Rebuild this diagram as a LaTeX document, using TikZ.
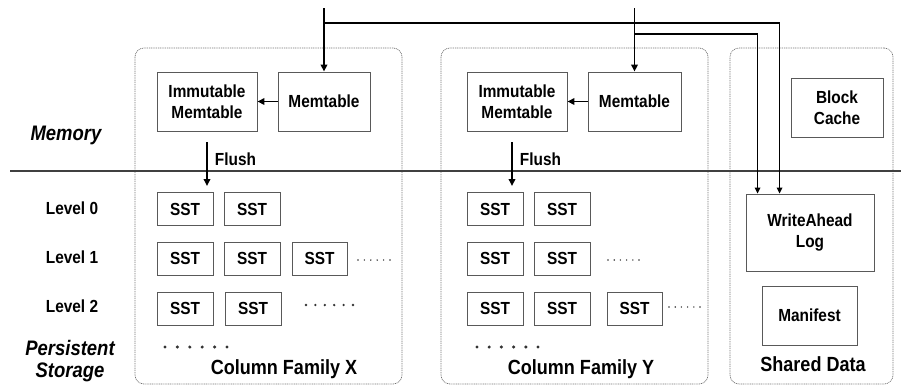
\documentclass[tikz,border=0pt]{standalone}
\usepackage{fontspec}
\setmainfont{Liberation Sans}[FakeStretch=0.88]
\usetikzlibrary{arrows.meta}

% label fonts
\newcommand{\lblfont}{\fontsize{17.5}{21.5}\selectfont\bfseries}
\newcommand{\capfont}{\fontsize{20.5}{24}\selectfont\bfseries}
\newcommand{\tierfont}{\fontsize{21}{21}\selectfont\bfseries\itshape}

\begin{document}
\begin{tikzpicture}[x=1pt,y=-1pt,
  region/.style={draw=black!55, line width=0.7pt, dash pattern=on 1pt off 0.8pt,
    rounded corners=9pt, inner sep=0pt},
  membox/.style={draw=black!65, line width=0.9pt, inner sep=0pt, align=center,
    font=\lblfont},
  sst/.style={membox, minimum width=56pt, minimum height=33pt},
  flow/.style={line width=1.8pt, -{Triangle[length=7pt,width=6.5pt]}},
  thin flow/.style={line width=1.5pt, -{Triangle[length=6pt,width=5.5pt]}},
  lbl/.style={font=\lblfont, inner sep=0pt},
  dot/.style={fill=black!80},
]
\useasboundingbox (0,0) rectangle (901,389);

% regions
\node[region, minimum width=267pt, minimum height=336pt] (cfx) at (268.5,216) {};
\node[region, minimum width=267pt, minimum height=336pt] (cfy) at (574.5,216) {};
\node[region, minimum width=163pt, minimum height=336pt] (shared) at (811.5,216) {};

% memory / storage boundary
\coordinate (sepL) at (10,171);
\coordinate (sepR) at (901,171);
\draw[black!75, line width=1.4pt] (sepL) -- (sepR);

% memtables
\node[membox, minimum width=100pt, minimum height=59pt] (imx) at (207,101.5) {Immutable\\Memtable};
\node[membox, minimum width=92pt, minimum height=59pt] (mtx) at (324,101.5) {Memtable};
\node[membox, minimum width=100pt, minimum height=59pt] (imy) at (517,101.5) {Immutable\\Memtable};
\node[membox, minimum width=93pt, minimum height=59pt] (mty) at (634.5,101.5) {Memtable};

% shared data
\node[membox, minimum width=92pt, minimum height=59pt] (cache) at (837,107.5) {Block\\Cache};
\node[membox, minimum width=128pt, minimum height=77pt] (wal) at (810,232.5) {WriteAhead\\Log};
\node[membox, minimum width=95pt, minimum height=59pt] (manifest) at (809.5,315.5) {Manifest};

% SST files, column family X
\node[sst] (x00) at (185,209) {SST};
\node[sst] (x01) at (252,209) {SST};
\node[sst] (x10) at (185,258.5) {SST};
\node[sst] (x11) at (252,258.5) {SST};
\node[sst, minimum width=55pt] (x12) at (319.5,258.5) {SST};
\node[sst] (x20) at (185,308.5) {SST};
\node[sst] (x21) at (253,308.5) {SST};

% SST files, column family Y
\node[sst] (y00) at (495,209) {SST};
\node[sst] (y01) at (562,209) {SST};
\node[sst] (y10) at (495,258.5) {SST};
\node[sst] (y11) at (562,258.5) {SST};
\node[sst] (y20) at (495,308.5) {SST};
\node[sst] (y21) at (562,308.5) {SST};
\node[sst, minimum width=55pt] (y22) at (634.5,308.5) {SST};

% continuation dots
\foreach \i in {0,...,5} {
  \fill[dot] (358+6.4*\i,260) circle (0.8pt);
  \fill[dot] (306+9.4*\i,305) circle (1.3pt);
  \fill[dot] (165+12.4*\i,347) circle (1.7pt);
  \fill[dot] (608+6.2*\i,260) circle (0.8pt);
  \fill[dot] (669+6.2*\i,307) circle (0.8pt);
  \fill[dot] (477+12.2*\i,347) circle (1.7pt);
}

% writes entering the memtables and the log
\coordinate (inx) at (324,8);
\coordinate (iny) at (634.5,8);
\coordinate (walA) at ([xshift=34pt]wal.north west);
\coordinate (walB) at ([xshift=12pt]wal.north west);
\draw[flow] (inx) -- (mtx.north);
\draw[flow] (iny) -- (mty.north);
\draw[thin flow] (inx |- 0,23) -| (walA);
\draw[thin flow] (iny |- 0,34) -| (walB);

% memtable to immutable memtable
\draw[flow] (mtx.west) -- (imx.east);
\draw[flow] (mty.west) -- (imy.east);

% flush to level 0
\coordinate (fx) at (207,142);
\coordinate (fy) at (512,142);
\draw[flow] (fx) -- (207,186) node[lbl, pos=0.4, right=7pt] (flx) {Flush};
\draw[flow] (fy) -- (512,186) node[lbl, pos=0.4, right=7pt] (fly) {Flush};

% tier and level labels
\node[font=\tierfont, inner sep=0pt] (mem) at (66,135) {Memory};
\node[lbl] (l0) at (72,208) {Level 0};
\node[lbl] (l1) at (72,257) {Level 1};
\node[lbl] (l2) at (72,306) {Level 2};
\node[font=\tierfont, inner sep=0pt] (pers) at (70,348) {Persistent};
\node[font=\tierfont, inner sep=0pt] (stor) at (70,372) {Storage};

% region captions
\node[font=\capfont, inner sep=0pt] (capx) at (284,369) {Column Family X};
\node[font=\capfont, inner sep=0pt] (capy) at (581,369) {Column Family Y};
\node[font=\capfont, inner sep=0pt] (caps) at (813,364) {Shared Data};
\end{tikzpicture}
\end{document}
